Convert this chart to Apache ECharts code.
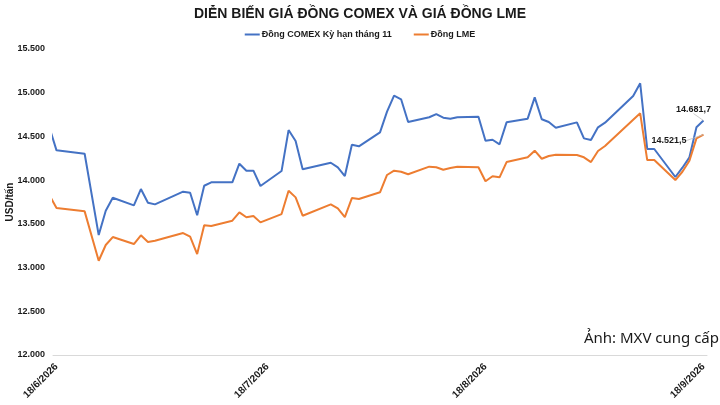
<!DOCTYPE html>
<html>
<head>
<meta charset="utf-8">
<script src="https://cdn.jsdelivr.net/npm/echarts@6/dist/echarts.min.js"></script>
<style>
html,body{margin:0;padding:0;background:#fff;}
#chart{width:720px;height:405px;}
</style>
</head>
<body>
<div id="chart"></div>
<script>
// ---- data ----
const dates = [
  '2026-06-17','2026-06-18','2026-06-22','2026-06-24','2026-06-25','2026-06-26',
  '2026-06-29','2026-06-30','2026-07-01','2026-07-02','2026-07-06','2026-07-07',
  '2026-07-08','2026-07-09','2026-07-10','2026-07-13','2026-07-14','2026-07-15',
  '2026-07-16','2026-07-17','2026-07-20','2026-07-21','2026-07-22','2026-07-23',
  '2026-07-27','2026-07-28','2026-07-29','2026-07-30','2026-07-31','2026-08-03',
  '2026-08-04','2026-08-05','2026-08-06','2026-08-07','2026-08-10','2026-08-11',
  '2026-08-12','2026-08-13','2026-08-14','2026-08-17','2026-08-18','2026-08-19',
  '2026-08-20','2026-08-21','2026-08-24','2026-08-25','2026-08-26','2026-08-27',
  '2026-08-28','2026-08-31','2026-09-01','2026-09-02','2026-09-03','2026-09-04',
  '2026-09-08','2026-09-09','2026-09-10','2026-09-11','2026-09-14','2026-09-15',
  '2026-09-16','2026-09-17','2026-09-18'
];
const comex = [
  14600,14341,14302,13372,13650,13799,
  13712,13898,13742,13723,13868,13856,
  13598,13936,13975,13975,14188,14108,
  14108,13933,14104,14573,14448,14124,
  14199,14147,14047,14405,14387,14547,
  14783,14966,14925,14665,14719,14756,
  14714,14703,14719,14726,14451,14462,
  14410,14661,14703,14947,14696,14665,
  14600,14661,14478,14459,14604,14657,
  14962,15108,14356,14356,14036,14142,
  14261,14604,14681.7
];
const lme = [
  13826,13681,13643,13078,13258,13349,
  13269,13369,13292,13307,13395,13353,
  13155,13483,13475,13536,13632,13575,
  13590,13517,13612,13879,13803,13593,
  13723,13678,13578,13795,13784,13861,
  14059,14108,14096,14067,14154,14147,
  14119,14139,14154,14147,13987,14044,
  14032,14207,14261,14337,14245,14276,
  14291,14287,14261,14207,14333,14390,
  14690,14764,14230,14230,14001,14096,
  14222,14478,14521.5
];
const seriesNames = ['Đồng COMEX Kỳ hạn tháng 11', 'Đồng LME'];
const xTickDates = ['2026-06-18','2026-07-18','2026-08-18','2026-09-18'];
const xMin = '2026-06-17 12:00';
const xMax = '2026-09-18 12:00';
const yMin = 12000, yMax = 15500, yStep = 500;

// ---- helpers ----
function fmtNum(v, dec) {
  const neg = v < 0; v = Math.abs(v);
  const s = v.toFixed(dec);
  const parts = s.split('.');
  const intPart = parts[0].replace(/\B(?=(\d{3})+(?!\d))/g, '.');
  return (neg ? '-' : '') + intPart + (parts[1] ? ',' + parts[1] : '');
}
function toTs(s) {
  const m = s.match(/(\d+)-(\d+)-(\d+)(?: (\d+):(\d+))?/);
  return new Date(+m[1], +m[2] - 1, +m[3], m[4] ? +m[4] : 0, m[5] ? +m[5] : 0).getTime();
}
const FONT = "'Liberation Sans', Arial, sans-serif";
const TXT = '#1a1a1a';

function buildData(vals, labelCfg) {
  return vals.map((v, i) => {
    const item = { value: [toTs(dates[i]), v] };
    if (i === vals.length - 1) item.label = labelCfg;
    return item;
  });
}

const chart = echarts.init(document.getElementById('chart'), null, { renderer: 'canvas' });
chart.setOption({
  animation: false,
  backgroundColor: '#ffffff',
  title: {
    text: 'DIỄN BIẾN GIÁ ĐỒNG COMEX VÀ GIÁ ĐỒNG LME',
    left: 'center', top: 2,
    textStyle: { fontFamily: FONT, fontSize: 14, fontWeight: 'bold', color: TXT }
  },
  legend: {
    top: 25, left: 'center',
    icon: 'rect', itemWidth: 15, itemHeight: 2, itemGap: 22,
    textStyle: { fontFamily: FONT, fontSize: 9, fontWeight: 'bold', color: TXT, padding: [0, 0, 0, -3] },
    data: seriesNames
  },
  grid: { left: 53, right: 13, top: 49, bottom: 50, containLabel: false, outerBoundsMode: 'none' },
  xAxis: {
    type: 'value',
    min: toTs(xMin), max: toTs(xMax),
    axisLine: { show: true, lineStyle: { color: '#d9d9d9', width: 1 } },
    axisTick: { show: false },
    splitLine: { show: false },
    axisLabel: {
      customValues: xTickDates.map(toTs),
      rotate: 45, margin: 10,
      fontFamily: FONT, fontSize: 10, fontWeight: 'bold', color: TXT,
      formatter: function (val) {
        const d = new Date(val);
        return d.getDate() + '/' + (d.getMonth() + 1) + '/' + d.getFullYear();
      }
    }
  },
  yAxis: {
    type: 'value',
    min: yMin, max: yMax, interval: yStep,
    name: 'USD/tấn', nameLocation: 'middle', nameGap: 38, nameRotate: 90, nameMoveOverlap: false,
    nameTextStyle: { fontFamily: FONT, fontSize: 10, fontWeight: 'bold', color: TXT },
    axisLine: { show: false },
    axisTick: { show: false },
    splitLine: { show: false },
    axisLabel: {
      margin: 8,
      fontFamily: FONT, fontSize: 9, fontWeight: 'bold', color: TXT,
      formatter: function (v) { return fmtNum(v, 0); }
    }
  },
  series: [
    {
      name: seriesNames[0], type: 'line', symbol: 'circle', symbolSize: 0.01, showSymbol: true, clip: true,
      lineStyle: { color: '#4472C4', width: 2 }, itemStyle: { color: '#4472C4' },
      data: buildData(comex, {
        show: true, position: 'top',
        fontFamily: FONT, fontSize: 9, fontWeight: 'bold', color: TXT,
        formatter: function (p) { return fmtNum(p.value[1], 1); }
      }),
      labelLine: { show: true, lineStyle: { color: '#bfbfbf', width: 0.8 } },
      labelLayout: function (p) { return { dx: -10, dy: -2 }; }
    },
    {
      name: seriesNames[1], type: 'line', symbol: 'circle', symbolSize: 0.01, showSymbol: true, clip: true,
      lineStyle: { color: '#ED7D31', width: 2 }, itemStyle: { color: '#ED7D31' },
      data: buildData(lme, {
        show: true, position: 'left',
        fontFamily: FONT, fontSize: 9, fontWeight: 'bold', color: TXT,
        formatter: function (p) { return fmtNum(p.value[1], 1); }
      }),
      labelLine: { show: true, lineStyle: { color: '#bfbfbf', width: 0.8 } },
      labelLayout: function (p) { return { dx: -12, dy: 6 }; }
    }
  ],
  graphic: [
    {
      type: 'text', right: 1, top: 331,
      style: { text: 'Ảnh: MXV cung cấp', font: "15px 'Noto Sans', 'Open Sans', sans-serif", fill: '#1a1a1a' }
    }
  ]
});
</script>
</body>
</html>
